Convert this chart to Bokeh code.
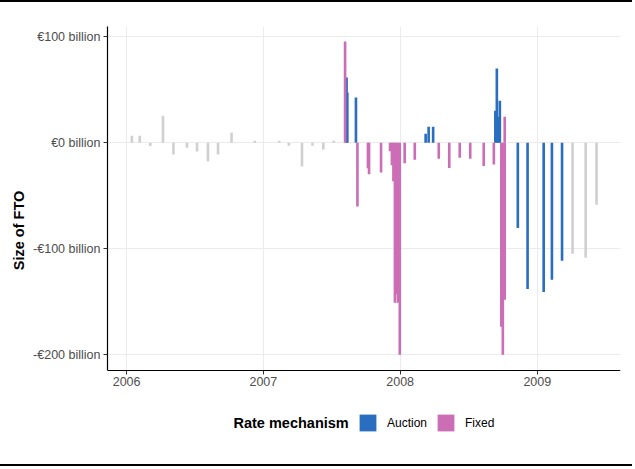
from datetime import datetime, timedelta

import pandas as pd
from bokeh.embed import file_html
from bokeh.models import (ColumnDataSource, CustomJSTickFormatter, DatetimeTickFormatter,
                          FixedTicker, Label, Legend, LegendItem, Range1d)
from bokeh.plotting import figure
from bokeh.resources import INLINE

# Operations: date, size (EUR billion), rate mechanism
dates = [
    "2006-01-15", "2006-02-05", "2006-03-05", "2006-04-08", "2006-05-06", "2006-06-11",
    "2006-07-08", "2006-08-06", "2006-09-02", "2006-10-08", "2006-12-09", "2007-02-12",
    "2007-03-10", "2007-04-14", "2007-05-12", "2007-06-10", "2007-07-08",
    "2007-08-07", "2007-08-11", "2007-08-13", "2007-09-05", "2007-09-09", "2007-10-07",
    "2007-10-10", "2007-11-11", "2007-12-05", "2007-12-10", "2007-12-14", "2007-12-18",
    "2007-12-22", "2007-12-26", "2007-12-31",
    "2008-01-13", "2008-02-09", "2008-03-09", "2008-03-17", "2008-03-29", "2008-04-13",
    "2008-05-11", "2008-06-08", "2008-07-06", "2008-08-11", "2008-09-07", "2008-09-11",
    "2008-09-15", "2008-09-19", "2008-09-23", "2008-09-27", "2008-10-01", "2008-10-06",
    "2008-10-06", "2008-11-10", "2008-12-06",
    "2009-01-18", "2009-02-09", "2009-03-08", "2009-04-05", "2009-05-10", "2009-06-08",
]
sizes = [
    6.6, 6.6, -3, 25.5, -11, -4.7,
    -8.2, -17.7, -11, 9.5, 1.9, 1.9,
    -2.8, -22.4, -2.8, -6.3, 1.9,
    95.6, 61.5, 47.5, 42.7, -60, -24,
    -29.8, -28, -7.9, -21.1, -36.3, -150.8,
    -143, -150.8, -200,
    -19.4, -16, 8.5, 15.1, 15.1, -15.1,
    -23.7, -14.2, -15.1, -21.8, -20.5, 30.3,
    70, 24.6, 39.7, -173.5, -200, -148,
    24.6, -80.4, -137.9,
    -140.7, -129.3, -111.4, -104.7, -108.5, -58.4,
]
mechanism = [
    "Other"] * 17 + [
    "Fixed", "Auction", "Auction", "Auction", "Fixed", "Fixed",
    "Fixed", "Fixed", "Fixed", "Fixed", "Fixed", "Fixed",
    "Fixed", "Fixed", "Fixed",
    "Fixed", "Fixed", "Auction", "Auction", "Auction", "Fixed",
    "Fixed", "Fixed", "Fixed", "Fixed", "Fixed", "Auction",
    "Auction", "Auction", "Auction", "Fixed", "Fixed", "Fixed",
    "Fixed", "Auction", "Auction",
    "Auction", "Auction", "Auction", "Other", "Other", "Other",
]
year_ticks = [2006, 2007, 2008, 2009]
y_ticks = [-200, -100, 0, 100]

df = pd.DataFrame({"date": pd.to_datetime(dates), "size": sizes, "mech": mechanism})

colors = {"Other": "#D0D0D0", "Auction": "#2A6EBF", "Fixed": "#CC6EB6"}
FONT = "Liberation Sans"
bar_w = timedelta(days=7).total_seconds() * 1000
Y_LO, Y_HI = -214.8, 109.7

# the frame runs on below the x axis so that the legend can sit inside it;
# the x axis is pinned at Y_LO
p = figure(width=632, height=466, output_backend="svg", toolbar_location=None,
           x_axis_type="datetime",
           x_range=Range1d(datetime(2005, 11, 11), datetime(2009, 8, 11)),
           y_range=Range1d(-275.2, Y_HI),
           min_border_left=107, min_border_right=12, min_border_top=24, min_border_bottom=34)
p.styles = {"border-top": "2px solid black", "border-bottom": "2px solid black"}

renderers = {}
for m in ["Other", "Auction", "Fixed"]:
    src = ColumnDataSource(df[df["mech"] == m])
    renderers[m] = p.vbar(x="date", top="size", bottom=0, width=bar_w, source=src,
                          fill_color=colors[m], line_color=None)

p.outline_line_color = None
p.xgrid.grid_line_color = "#EBEBEB"
p.ygrid.grid_line_color = "#EBEBEB"
p.xgrid.cross_bounds = (Y_LO, Y_HI)

p.xaxis.fixed_location = Y_LO
p.yaxis.bounds = (Y_LO, Y_HI)
p.xaxis.ticker = FixedTicker(ticks=[datetime(y, 1, 1).timestamp() * 1000 for y in year_ticks])
p.xaxis.formatter = DatetimeTickFormatter(years="%Y", months="%Y", days="%Y", hours="%Y")
p.yaxis.ticker = FixedTicker(ticks=y_ticks)
p.yaxis.formatter = CustomJSTickFormatter(
    code="return (tick < 0 ? '-' : '') + '\u20ac' + Math.abs(tick) + ' billion';")

for ax in [p.xaxis, p.yaxis]:
    ax.axis_line_color = "black"
    ax.axis_line_width = 1.2
    ax.major_tick_line_color = "#333333"
    ax.major_tick_out = 4
    ax.major_tick_in = 0
    ax.minor_tick_line_color = None
    ax.major_label_text_font = FONT
    ax.major_label_text_font_size = "12.5px"
    ax.major_label_text_color = "#4D4D4D"
    ax.major_label_standoff = 3

p.yaxis.axis_label = "Size of FTO"
p.yaxis.axis_label_text_font = FONT
p.yaxis.axis_label_text_font_style = "bold"
p.yaxis.axis_label_text_font_size = "14.5px"
p.yaxis.axis_label_text_color = "black"
p.yaxis.axis_label_standoff = 3

# legend (screen offsets from the frame's bottom-left corner)
legend = Legend(items=[LegendItem(label=m, renderers=[renderers[m]]) for m in ["Auction", "Fixed"]],
                orientation="horizontal", location=(250, 1))
legend.label_text_font = FONT
legend.label_text_font_size = "12px"
legend.label_text_color = "black"
legend.label_standoff = 9
legend.label_height = 21
legend.glyph_width = 21
legend.glyph_height = 21
legend.spacing = 8
legend.padding = 0
legend.margin = 0
legend.border_line_color = None
legend.background_fill_alpha = 0
p.add_layout(legend)
p.add_layout(Label(x=126, y=11.5, x_units="screen", y_units="screen", text="Rate mechanism",
                   text_font=FONT, text_font_style="bold", text_font_size="14.5px",
                   text_color="black", text_baseline="middle", text_align="left"))

open("out.html", "w").write(file_html(p, INLINE))
